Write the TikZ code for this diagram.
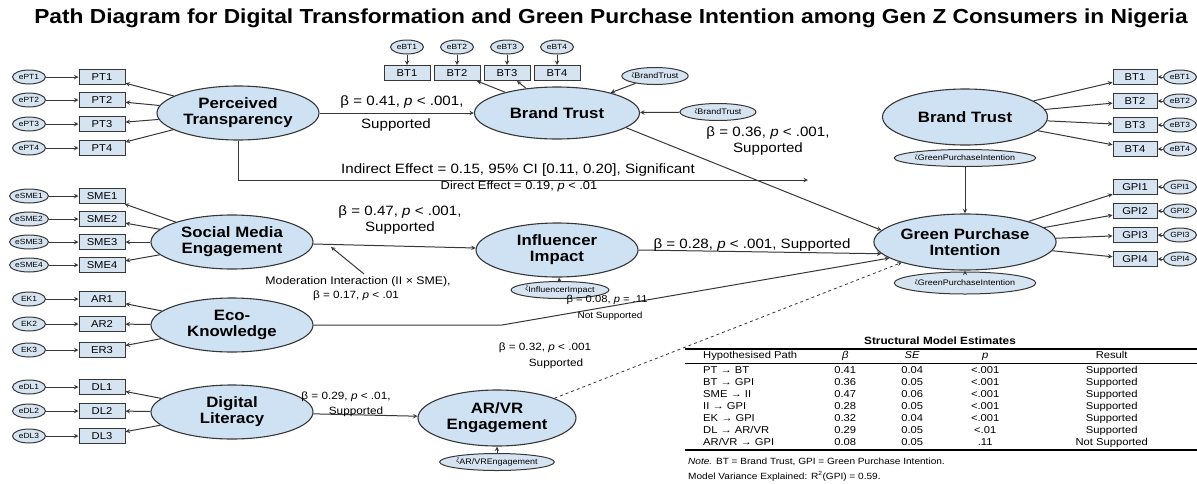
\documentclass[tikz,border=0pt]{standalone}
\usepackage{fontspec}
\setmainfont{Liberation Sans}[FakeStretch=1.12]
\usepackage{array}
\usepackage{booktabs}
\usetikzlibrary{shapes.geometric,positioning}

\definecolor{latfill}{RGB}{207,226,243}
\definecolor{boxfill}{RGB}{214,228,242}
\definecolor{edgegray}{RGB}{55,55,55}

\newcommand{\zlabel}[1]{\raisebox{1.5pt}{\fontsize{6}{6}\selectfont ζ}#1}

\tikzset{
  latent/.style={ellipse,draw=edgegray,fill=latfill,line width=1.1pt,minimum width=162pt,minimum height=54pt,inner sep=0pt,align=center,font=\fontsize{15}{16}\selectfont\bfseries},
  indic/.style={rectangle,draw=edgegray,fill=boxfill,line width=1pt,minimum width=46pt,minimum height=15pt,inner sep=0pt,font=\fontsize{10}{10}\selectfont},
  errv/.style={ellipse,draw=edgegray,fill=boxfill,line width=1pt,minimum width=33pt,minimum height=14pt,inner sep=0pt,font=\fontsize{7.5}{8}\selectfont},
  resid/.style={ellipse,draw=edgegray,fill=boxfill,line width=1pt,minimum height=17pt,inner sep=0pt,font=\fontsize{8}{8}\selectfont},
  link/.style={->,color=edgegray,line width=1pt},
  lbl/.style={inner sep=0pt,font=\fontsize{13.5}{14}\selectfont},
  small lbl/.style={inner sep=0pt,font=\fontsize{10.5}{12}\selectfont},
}

\begin{document}
\begin{tikzpicture}[x=1pt,y=-1pt,>=stealth]
  \useasboundingbox (0,0) rectangle (1197,483);

  \node[inner sep=0pt,font=\fontsize{20.3}{22}\selectfont\bfseries] (title) at (611,18) {Path Diagram for Digital Transformation and Green Purchase Intention among Gen Z Consumers in Nigeria};

  % perceived transparency
  \node[errv] (ePT1) at (29,77) {ePT1};
  \node[errv] (ePT2) at (29,100) {ePT2};
  \node[errv] (ePT3) at (29,124) {ePT3};
  \node[errv] (ePT4) at (29,148) {ePT4};
  \node[indic] (PT1) at (102,77) {PT1};
  \node[indic] (PT2) at (102,100) {PT2};
  \node[indic] (PT3) at (102,124) {PT3};
  \node[indic] (PT4) at (102,148) {PT4};
  \node[latent] (PT) at (238,113) {Perceived\\Transparency};

  % social media engagement
  \node[errv] (eSME1) at (29,196) {eSME1};
  \node[errv] (eSME2) at (29,219) {eSME2};
  \node[errv] (eSME3) at (29,242) {eSME3};
  \node[errv] (eSME4) at (29,265) {eSME4};
  \node[indic] (SME1) at (102,196) {SME1};
  \node[indic] (SME2) at (102,219) {SME2};
  \node[indic] (SME3) at (102,242) {SME3};
  \node[indic] (SME4) at (102,265) {SME4};
  \node[latent] (SME) at (232,242) {Social Media\\Engagement};

  % eco-knowledge
  \node[errv] (eEK1) at (29,299) {EK1};
  \node[errv] (eEK2) at (29,324) {EK2};
  \node[errv] (eEK3) at (29,350) {EK3};
  \node[indic] (EK1) at (102,299) {AR1};
  \node[indic] (EK2) at (102,324) {AR2};
  \node[indic] (EK3) at (102,350) {ER3};
  \node[latent] (EK) at (232,325) {Eco-\\Knowledge};

  % digital literacy
  \node[errv] (eDL1) at (29,387) {eDL1};
  \node[errv] (eDL2) at (29,411) {eDL2};
  \node[errv] (eDL3) at (29,436) {eDL3};
  \node[indic] (DL1) at (102,387) {DL1};
  \node[indic] (DL2) at (102,411) {DL2};
  \node[indic] (DL3) at (102,436) {DL3};
  \node[latent] (DL) at (232,412) {Digital\\Literacy};

  % brand trust (middle)
  \node[errv] (eBTa1) at (407,47) {eBT1};
  \node[errv] (eBTa2) at (457,47) {eBT2};
  \node[errv] (eBTa3) at (507,47) {eBT3};
  \node[errv] (eBTa4) at (557,47) {eBT4};
  \node[indic] (BTa1) at (407,73) {BT1};
  \node[indic] (BTa2) at (457,73) {BT2};
  \node[indic] (BTa3) at (507,73) {BT3};
  \node[indic] (BTa4) at (557,73) {BT4};
  \node[latent,minimum width=165pt,minimum height=52pt] (BTt) at (557,113) {Brand Trust};
  \node[resid,minimum width=66pt] (zBT1) at (655,76) {\zlabel{BrandTrust}};
  \node[resid,minimum width=76pt] (zBT2) at (718,112) {\zlabel{BrandTrust}};

  % mediators
  \node[latent] (II) at (557,250) {Influencer\\Impact};
  \node[resid,minimum width=90pt] (zII) at (560,290) {\zlabel{InfluencerImpact}};
  \node[latent,minimum width=158pt,minimum height=56pt] (ARVR) at (497,418) {AR/VR\\Engagement};
  \node[resid,minimum width=92pt] (zAR) at (497,462) {\zlabel{AR/VREngagement}};

  % brand trust (right)
  \node[latent,minimum width=165pt,minimum height=56pt] (BTr) at (965,117) {Brand Trust};
  \node[indic,minimum width=44pt] (BTb1) at (1135,77) {BT1};
  \node[indic,minimum width=44pt] (BTb2) at (1135,101) {BT2};
  \node[indic,minimum width=44pt] (BTb3) at (1135,125) {BT3};
  \node[indic,minimum width=44pt] (BTb4) at (1135,149) {BT4};
  \node[errv] (eBTb1) at (1180,77) {eBT1};
  \node[errv] (eBTb2) at (1180,101) {eBT2};
  \node[errv] (eBTb3) at (1180,125) {eBT3};
  \node[errv] (eBTb4) at (1180,149) {eBT4};

  % green purchase intention
  \node[resid,minimum width=118pt] (zGPI1) at (965,158) {\zlabel{GreenPurchaseIntention}};
  \node[latent,minimum width=165pt,minimum height=56pt] (GPI) at (965,242) {Green Purchase\\Intention};
  \node[resid,minimum width=138pt,minimum height=22pt] (zGPI2) at (965,283) {\zlabel{GreenPurchaseIntention}};
  \node[indic,minimum width=44pt] (GPIi1) at (1135,187) {GPI1};
  \node[indic,minimum width=44pt] (GPIi2) at (1135,211) {GPI2};
  \node[indic,minimum width=44pt] (GPIi3) at (1135,235) {GPI3};
  \node[indic,minimum width=44pt] (GPIi4) at (1135,259) {GPI4};
  \node[errv] (eGPI1) at (1180,187) {GPI1};
  \node[errv] (eGPI2) at (1180,211) {GPI2};
  \node[errv] (eGPI3) at (1180,235) {GPI3};
  \node[errv] (eGPI4) at (1180,259) {GPI4};

  % measurement arrows
  \path[link] (ePT1) edge (PT1) (ePT2) edge (PT2) (ePT3) edge (PT3) (ePT4) edge (PT4)
        (PT) edge (PT1) edge (PT2) edge (PT3) edge (PT4);
  \path[link] (eSME1) edge (SME1) (eSME2) edge (SME2) (eSME3) edge (SME3) (eSME4) edge (SME4)
        (SME) edge (SME1) edge (SME2) edge (SME3) edge (SME4);
  \path[link] (eEK1) edge (EK1) (eEK2) edge (EK2) (eEK3) edge (EK3)
        (EK) edge (EK1) edge (EK2) edge (EK3);
  \path[link] (eDL1) edge (DL1) (eDL2) edge (DL2) (eDL3) edge (DL3)
        (DL) edge (DL1) edge (DL2) edge (DL3);
  \path[link] (eBTa1) edge (BTa1) (eBTa2) edge (BTa2) (eBTa3) edge (BTa3) (eBTa4) edge (BTa4)
        (BTt) edge (BTa2) edge (BTa3)
        (zBT1) edge (BTt) (zBT2) edge (BTt);
  \path[link] (BTr) edge (BTb1) edge (BTb2) edge (BTb3) edge (BTb4)
        (eBTb1) edge (BTb1) (eBTb2) edge (BTb2) (eBTb3) edge (BTb3) (eBTb4) edge (BTb4);
  \path[link] (GPI) edge (GPIi1) edge (GPIi2) edge (GPIi3) edge (GPIi4)
        (eGPI1) edge (GPIi1) (eGPI2) edge (GPIi2) (eGPI3) edge (GPIi3) (eGPI4) edge (GPIi4)
        (zGPI1) edge (GPI) (zGPI2) edge (GPI)
        (zII) edge (II) (zAR) edge (ARVR);

  % structural paths
  \coordinate (indend) at (808,180);
  \coordinate (ekbend) at (502,325);
  \coordinate (modtail) at (364,274);
  \coordinate (modtip) at (331,247);
  \path[link] (PT) edge (BTt)
        (BTt.-12) edge (GPI.172)
        (SME) edge (II)
        (II.east) edge (GPI.188)
        (DL) edge (ARVR);
  \draw[link] (PT.south) |- (indend);
  \draw[link] (EK.east) -- (ekbend) -- (GPI.192);
  \draw[link,dashed,line width=0.8pt] (ARVR.19) -- (GPI.198);
  \draw[link] (modtail) -- (modtip);

  % path labels
  \node[lbl] (lPTa) at (402,102) {β = 0.41, \textit{p} < .001,};
  \node[lbl] (lPTb) at (396,125) {Supported};
  \node[lbl] (lInd) at (518,170) {Indirect Effect = 0.15, 95\% CI [0.11, 0.20], Significant};
  \node[small lbl,font=\fontsize{11.5}{12}\selectfont] (lDir) at (519,187) {Direct Effect = 0.19, \textit{p} < .01};
  \node[lbl] (lBTa) at (768,133) {β = 0.36, \textit{p} < .001,};
  \node[lbl] (lBTb) at (768,149) {Supported};
  \node[lbl] (lSMEa) at (400,212) {β = 0.47, \textit{p} < .001,};
  \node[lbl] (lSMEb) at (400,228) {Supported};
  \node[lbl] (lII) at (752,245) {β = 0.28, \textit{p} < .001, Supported};
  \node[small lbl,font=\fontsize{11}{12}\selectfont] (lModa) at (358,282) {Moderation Interaction (II × SME),};
  \node[small lbl] (lModb) at (356,296) {β = 0.17, \textit{p} < .01};
  \node[small lbl] (lEKa) at (545,348) {β = 0.32, \textit{p} < .001};
  \node[small lbl] (lEKb) at (556,364) {Supported};
  \node[small lbl,font=\fontsize{10}{11}\selectfont] (lARa) at (607,300) {β = 0.08, \textit{p} = .11};
  \node[small lbl,font=\fontsize{9}{10}\selectfont] (lARb) at (610,316) {Not Supported};
  \node[small lbl] (lDLa) at (346,397) {β = 0.29, \textit{p} < .01,};
  \node[small lbl] (lDLb) at (356,412) {Supported};

  % estimates table
  \node[inner sep=0pt,font=\fontsize{10.5}{11}\selectfont\bfseries] (tabtitle) at (940,341) {Structural Model Estimates};
  \node[anchor=north west,inner sep=0pt,font=\fontsize{10}{12}\selectfont] (tab) at (685,348) {%
    \setlength{\tabcolsep}{0pt}\setlength{\aboverulesep}{0pt}\setlength{\belowrulesep}{1pt}%
    \begin{tabular}{@{\hspace{18pt}}p{107pt}>{\centering\arraybackslash}p{70pt}>{\centering\arraybackslash}p{64pt}>{\centering\arraybackslash}p{82pt}>{\centering\arraybackslash}p{171pt}@{}}
      \toprule[1.3pt]
      Hypothesised Path & \textit{β} & \textit{SE} & \textit{p} & Result\\
      \midrule[1.8pt]
      PT → BT & 0.41 & 0.04 & <.001 & Supported\\
      BT → GPI & 0.36 & 0.05 & <.001 & Supported\\
      SME → II & 0.47 & 0.06 & <.001 & Supported\\
      II → GPI & 0.28 & 0.05 & <.001 & Supported\\
      EK → GPI & 0.32 & 0.04 & <.001 & Supported\\
      DL → AR/VR & 0.29 & 0.05 & <.01 & Supported\\
      AR/VR → GPI & 0.08 & 0.05 & .11 & Not Supported\\
      \bottomrule[1.3pt]
    \end{tabular}};
  \node[anchor=west,inner sep=0pt,font=\fontsize{9}{10}\selectfont] (note) at (688,462) {\textit{Note.} BT = Brand Trust, GPI = Green Purchase Intention.};
  \node[anchor=west,inner sep=0pt,font=\fontsize{9}{10}\selectfont] (varexp) at (688,476) {Model Variance Explained: R\textsuperscript{2}(GPI) = 0.59.};
\end{tikzpicture}
\end{document}
